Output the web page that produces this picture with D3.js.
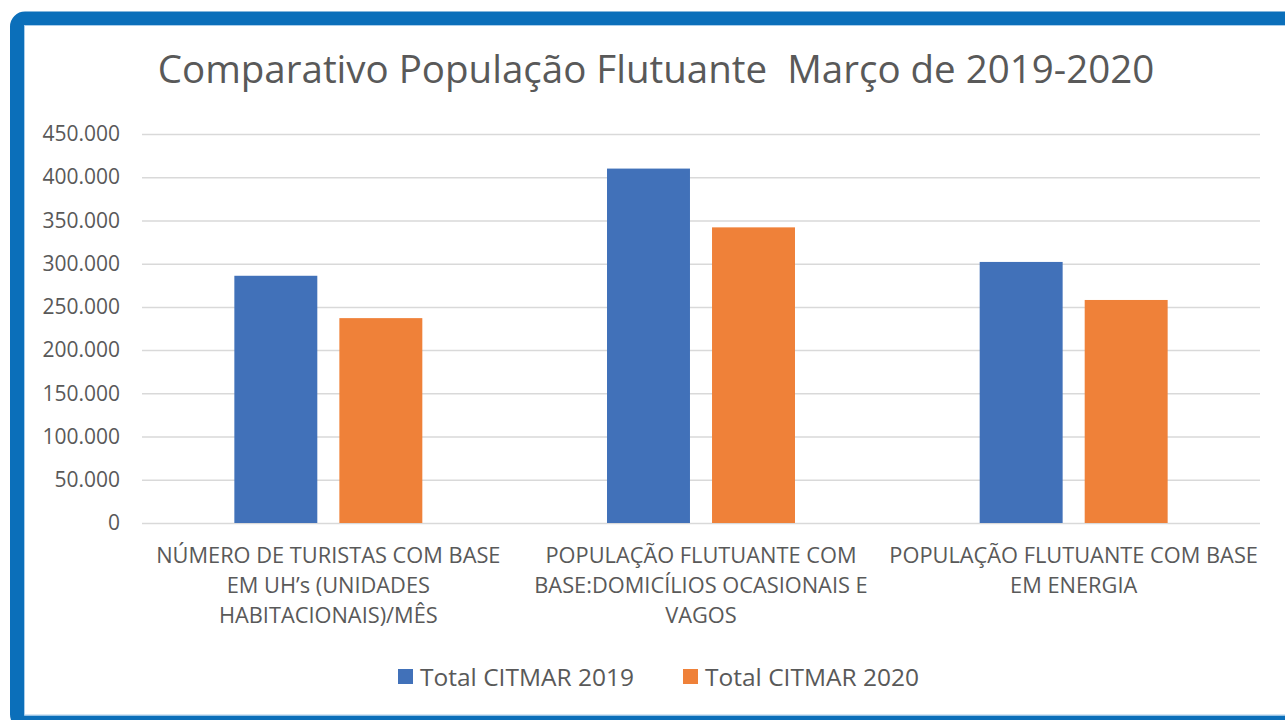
<!DOCTYPE html>
<html>
<head>
<meta charset="utf-8">
<script src="https://cdn.jsdelivr.net/npm/d3@7"></script>
<style>
  html, body { margin: 0; padding: 0; background: #ffffff; }
  svg { display: block; }
  text { font-family: "Open Sans", "Noto Sans", sans-serif; fill: #595959; white-space: pre; }
</style>
</head>
<body>
<svg id="chart" width="1285" height="720"></svg>
<script>
// Chart data
const titleText = "Comparativo População Flutuante  Março de 2019-2020";
const categories = [
  "NÚMERO DE TURISTAS COM BASE EM UH’s (UNIDADES HABITACIONAIS)/MÊS",
  "POPULAÇÃO FLUTUANTE COM BASE:DOMICÍLIOS OCASIONAIS E VAGOS",
  "POPULAÇÃO FLUTUANTE COM BASE EM ENERGIA"
];
// Wrapped lines of each category label
const categoryLines = [
  ["NÚMERO DE TURISTAS COM BASE", "EM UH’s (UNIDADES", "HABITACIONAIS)/MÊS"],
  ["POPULAÇÃO FLUTUANTE COM", "BASE:DOMICÍLIOS OCASIONAIS E", "VAGOS"],
  ["POPULAÇÃO FLUTUANTE COM BASE", "EM ENERGIA"]
];
const seriesNames = ["Total CITMAR 2019", "Total CITMAR 2020"];
const values2019 = [286000, 410000, 302000];
const values2020 = [237000, 342000, 258000];
const yTicks = [0, 50000, 100000, 150000, 200000, 250000, 300000, 350000, 400000, 450000];
const seriesColors = ["#4171B9", "#EF8139"];

const svg = d3.select("#chart");

// Frame with rounded corner, running past the right and bottom edges
svg.append("rect")
  .attr("x", 17).attr("y", 18.5)
  .attr("width", 1320).attr("height", 704)
  .attr("rx", 8).attr("ry", 8)
  .attr("fill", "#ffffff")
  .attr("stroke", "#0B6FBA")
  .attr("stroke-width", 14);
svg.append("rect")
  .attr("x", 24.5).attr("y", 25.5)
  .attr("width", 1300).attr("height", 689.5)
  .attr("fill", "none")
  .attr("stroke", "#A9CDEB")
  .attr("stroke-width", 1);

const plot = { left: 142, right: 1260, top: 134, bottom: 523 };

const y = d3.scaleLinear().domain([0, 450000]).range([plot.bottom, plot.top]);
const x0 = d3.scaleBand().domain(categories).range([plot.left, plot.right]).padding(0);
const bw = x0.bandwidth();
const x1 = d3.scaleBand().domain(seriesNames)
  .range([bw * 0.2478, bw * 0.7522]).paddingInner(0.21).paddingOuter(0);

const locale = d3.formatLocale({ decimal: ",", thousands: ".", grouping: [3], currency: ["R$", ""] });
const fmt = locale.format(",d");

// Gridlines and value axis
const yAxis = d3.axisLeft(y)
  .tickValues(yTicks)
  .tickFormat(fmt)
  .tickSize(-(plot.right - plot.left))
  .tickPadding(22);

const gy = svg.append("g")
  .attr("transform", `translate(${plot.left},0)`)
  .call(yAxis);
gy.select(".domain").remove();
gy.selectAll(".tick line").attr("stroke", "#D9D9D9").attr("stroke-width", 1.5);
gy.selectAll(".tick text")
  .attr("font-size", 21)
  .attr("fill", "#595959")
  .style("font-family", "'Open Sans', sans-serif");

// Bars
const series = [values2019, values2020];
const groups = svg.append("g").selectAll("g")
  .data(categories)
  .join("g")
  .attr("transform", d => `translate(${x0(d)},0)`);

groups.selectAll("rect")
  .data((d, i) => seriesNames.map((s, k) => ({ s, v: series[k][i], k })))
  .join("rect")
  .attr("x", d => x1(d.s))
  .attr("width", x1.bandwidth())
  .attr("y", d => y(d.v))
  .attr("height", d => y(0) - y(d.v))
  .attr("fill", d => seriesColors[d.k]);

// Category labels
const catG = svg.append("g");
categories.forEach((c, i) => {
  const cx = x0(c) + bw / 2;
  const t = catG.append("text")
    .attr("x", cx)
    .attr("y", 563)
    .attr("text-anchor", "middle")
    .attr("font-size", 21.8);
  categoryLines[i].forEach((line, j) => {
    t.append("tspan")
      .attr("x", cx)
      .attr("y", 563 + j * 30)
      .text(line);
  });
});

// Title
svg.append("text")
  .attr("x", 656)
  .attr("y", 83)
  .attr("text-anchor", "middle")
  .attr("font-size", 38.5)
  .text(titleText);

// Legend
const legendItems = [
  { name: seriesNames[0], color: seriesColors[0], x: 398 },
  { name: seriesNames[1], color: seriesColors[1], x: 683 }
];
const lg = svg.append("g");
legendItems.forEach(it => {
  lg.append("rect")
    .attr("x", it.x).attr("y", 669)
    .attr("width", 15).attr("height", 15)
    .attr("fill", it.color);
  lg.append("text")
    .attr("x", it.x + 22).attr("y", 686)
    .attr("font-size", 24.5)
    .text(it.name);
});
</script>
</body>
</html>
